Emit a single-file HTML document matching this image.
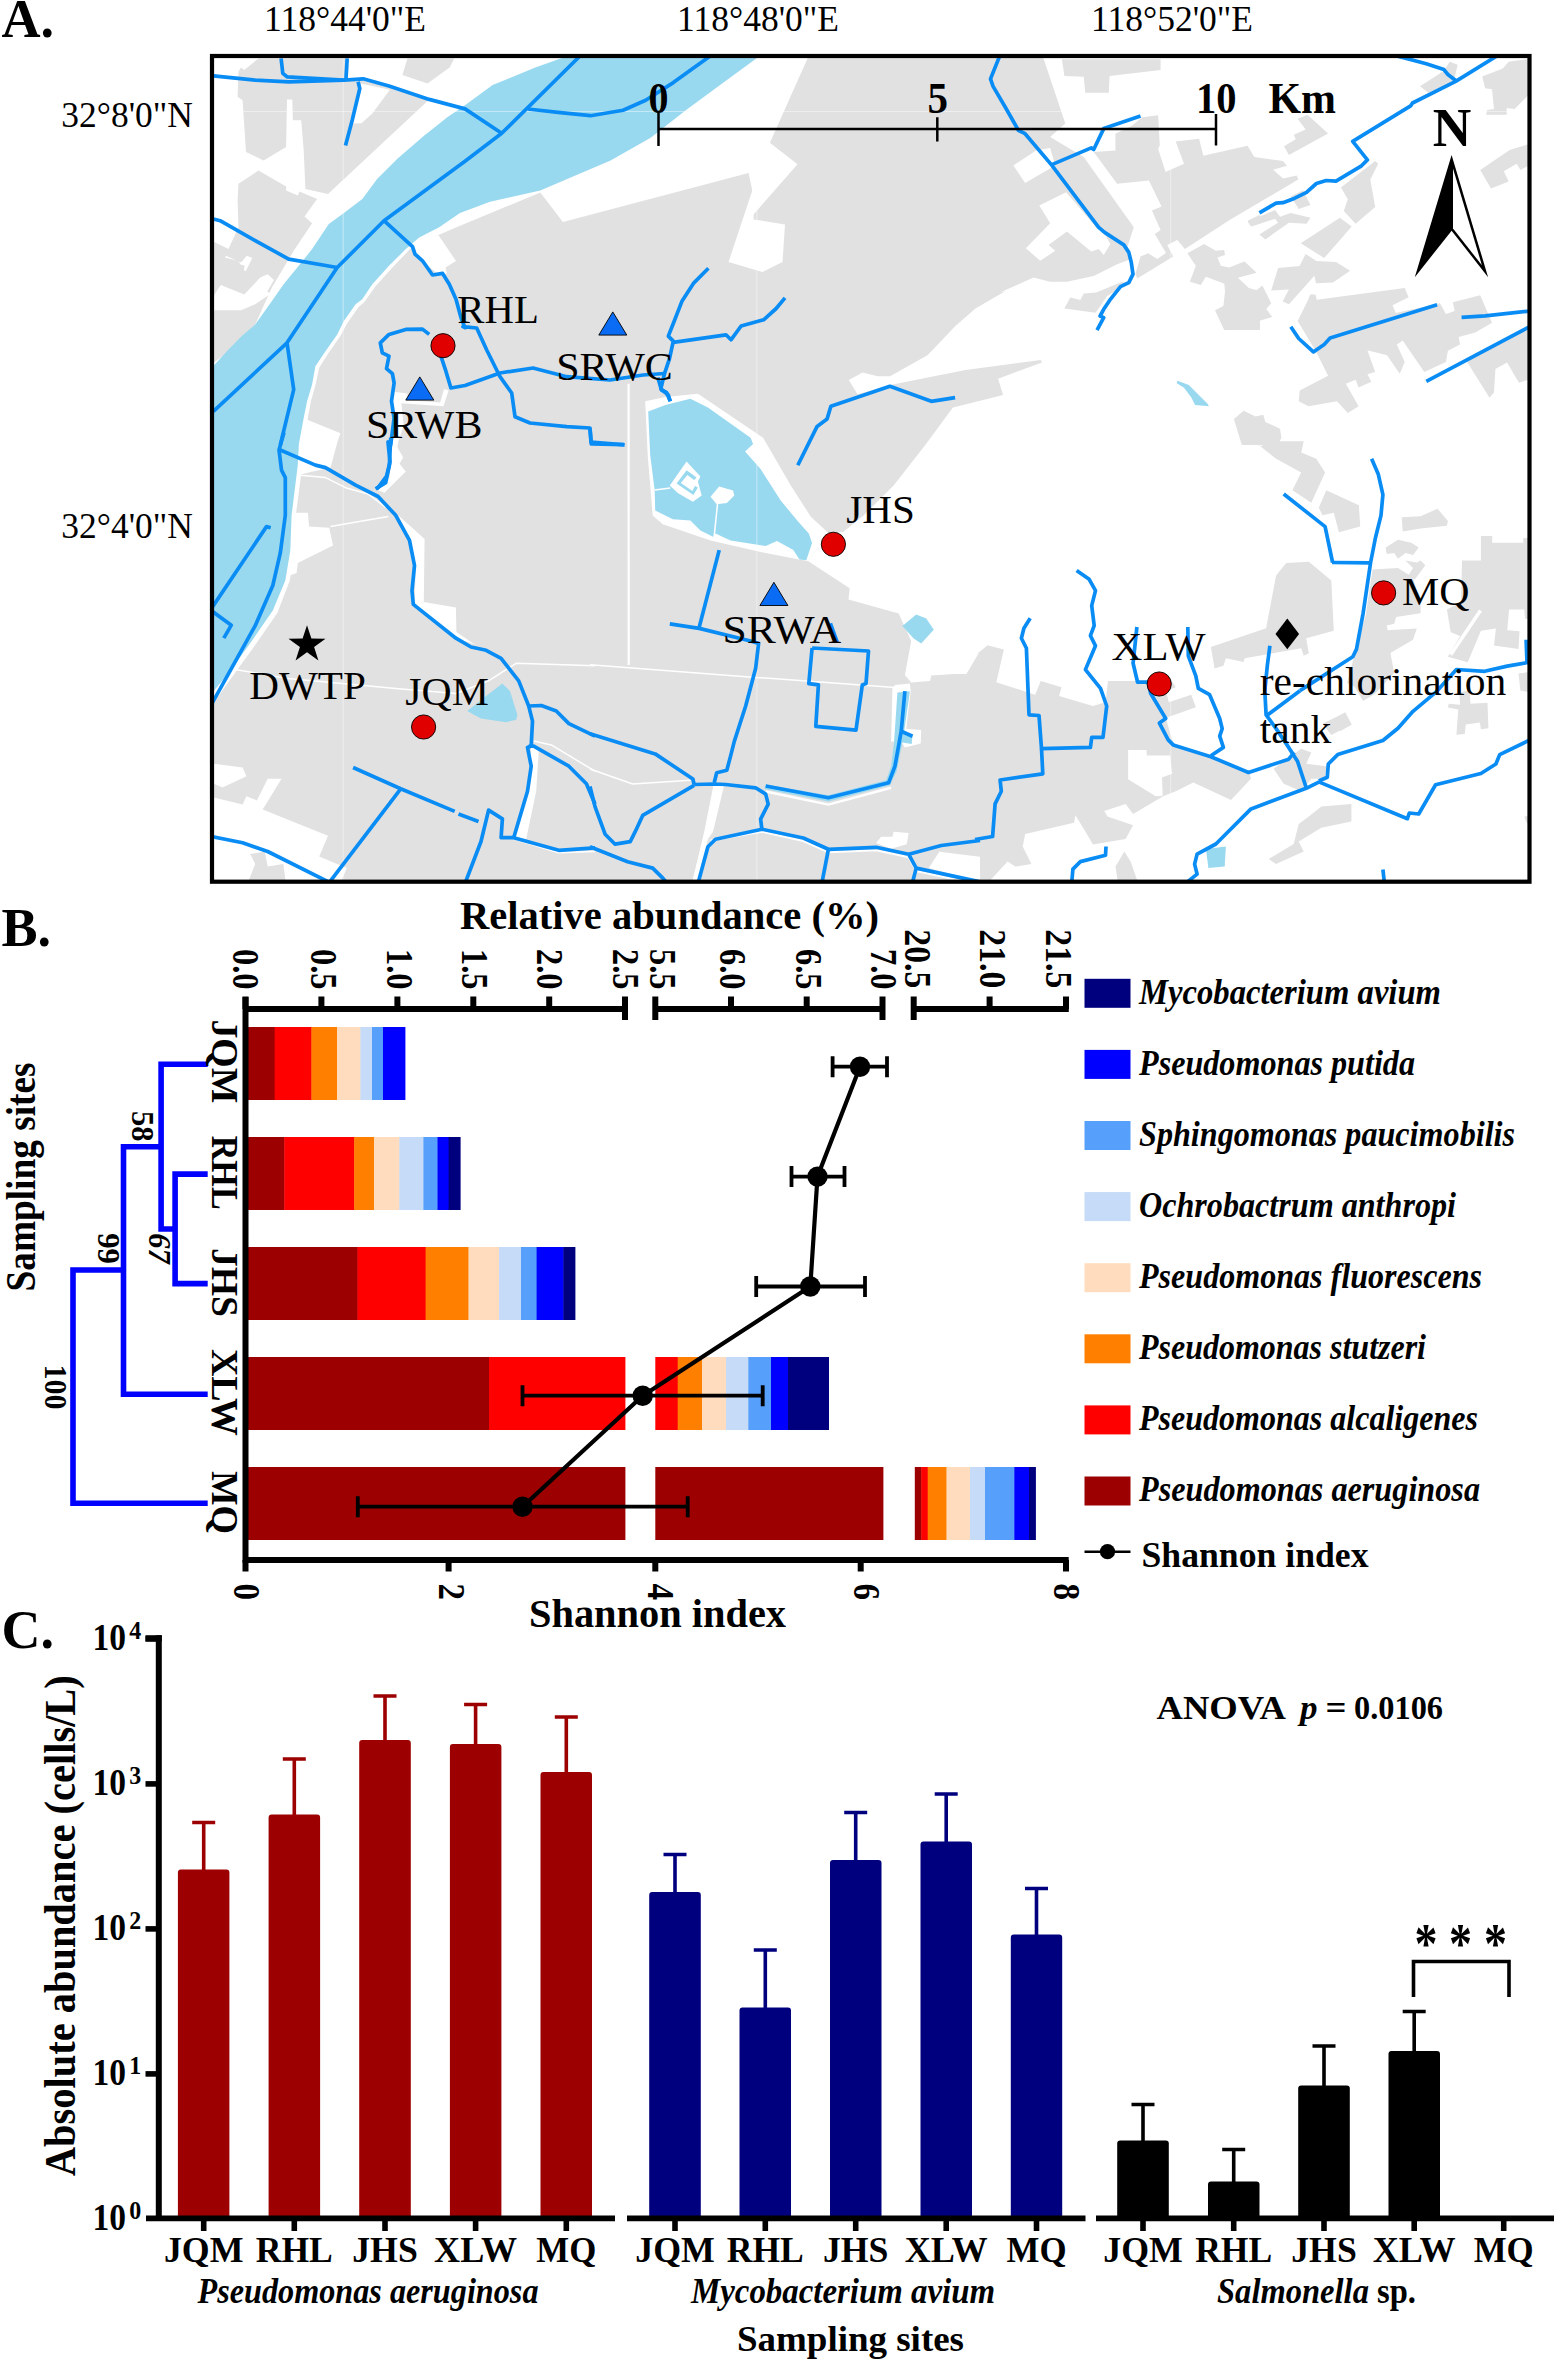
<!DOCTYPE html>
<html lang="en">
<head>
<meta charset="utf-8">
<title>Figure: sampling map, relative abundance and absolute abundance</title>
<style>
html,body{margin:0;padding:0;background:#fff;}
body{width:1554px;height:2362px;overflow:hidden;}
svg{display:block;}
text{font-family:"Liberation Serif",serif;fill:#000;}
.b{font-weight:bold;}
.i{font-style:italic;}
</style>
</head>
<body>
<svg width="1554" height="2362" viewBox="0 0 1554 2362">
<rect x="0" y="0" width="1554" height="2362" fill="#ffffff"/>
<g id="panelA">
<clipPath id="mapclip"><rect x="212.0" y="56.0" width="1317.5" height="825.7"/></clipPath>
<g clip-path="url(#mapclip)">
<path d="M412.5 246.6 L392.9 267 L375.3 286.6 L364.4 302 L358.6 307 L346.9 323.7 L340.2 336.3 L328.5 353 L319.3 367.4 L315.6 384.6 L310.9 401.3 L307.4 420.6 L303.4 440 L302.4 465.1 L295.8 515.3 L294.6 550.4 L289.8 580.5 L277.3 613.1 L254.7 645.8 L234.6 673.4 L211.3 706 L205 890 L990 890 L990.1 880.4 L1007.6 861.6 L1015.2 866.6 L1031.5 864.1 L1022.7 846.5 L1025.2 834 L1074.1 822.7 L1075.4 815.2 L1085.4 831.5 L1092.9 844.5 L1125.6 839 L1133.1 825.2 L1107.5 816.4 L1104.2 810.9 L1125.6 803.9 L1133.1 813.9 L1163.2 796.3 L1175.8 791.3 L1193.3 782.5 L1231 800.1 L1251 778.8 L1249.8 773.8 L1210.9 756.7 L1173.2 743.6 L1165.7 718 L1195.8 707.3 L1191.3 694.7 L1168.7 702.2 L1166.2 690.9 L1175.8 687.2 L1170.7 679.6 L1148.1 680.9 L1108 680.9 L1105.5 702.2 L1092.9 706 L1059.1 696 L1061.6 687.2 L1040.7 680.9 L1035.2 694.7 L996.3 682.2 L1003.9 649.5 L987.5 645.3 L975 655.8 L980 651 L966.4 674.1 L953.9 674.1 L931.3 675.6 L930 681.1 L911.2 682.4 L904.9 674.9 L911.2 641 L898.7 613.4 L848.5 599.6 L849.7 588.3 L808.3 561.2 L828.4 533.1 L843.5 531.8 L863.5 515.5 L893.6 485.4 L925.3 445 L952.9 407.6 L1003.1 395 L998.1 378.7 L1042 362.4 L1040.7 359.9 L965.5 369.9 L890.2 385 L857.5 394.3 L848.8 380 L862.6 372.5 L877.6 376.2 L890.2 376.2 L927.8 354.9 L955.4 326 L975.5 308.5 L1005.6 290.9 L1000 292.6 L1033.5 277.5 L1050.2 281.7 L1066.9 281.7 L1093.7 275.9 L1117.1 264.2 L1131.3 259.1 L1127.2 247.4 L1133.8 227.3 L1083.7 157.1 L1050.2 137 L1065.3 123.6 L1041.8 53.3 L811.3 50 L769.9 142.8 L797.5 164.2 L753.6 214.4 L753.6 219.4 L785 224.4 L782.5 262 L762.4 272 L728.5 262 L752.3 190.5 L748.6 173 L562.9 221.9 L540.3 192.5 L459.5 226 L438.4 234.9 Z" fill="#e1e1e1"/>
<path d="M238.5 71.8 L241 67.6 L244.3 70.1 L258.5 58.4 L347.2 58.4 L347.2 80.1 L363.1 78.8 L389 86 L429.2 99.4 L328 193.9 L305.4 188.9 L303.7 150.4 L301.2 120.3 L292.8 120.3 L292.3 99.4 L287 99.4 L286.1 147 L263.6 160.4 L246 152.1 L242.6 100.2 L237.6 96.8 Z" fill="#e1e1e1"/>
<path d="M407.4 58.4 L454.3 58.4 L449.6 67.6 L427.5 83.5 L402.4 75.1 Z" fill="#e1e1e1"/>
<path d="M238.5 183.8 L258.5 170.5 L286.1 186.4 L286.1 190.5 L297.9 195.6 L299.5 191.4 L317.1 198.9 L304.5 216.5 L312.1 223.2 L293.7 250.8 L271.9 287.6 L255.2 324.4 L240.1 339.4 L226.8 352.8 L213.4 362.9 L213.4 241.6 L228.4 249.1 L238.5 227.3 L237.6 200.6 Z" fill="#e1e1e1"/>
<path d="M1093.7 152.1 L1115.4 150.4 L1115.4 133.7 L1132.2 125.6 L1142.2 117.3 L1158.1 115.3 L1159.8 145.4 L1158.1 148.7 L1165.6 172.1 L1184 163.8 L1175.7 141.5 L1199.1 138.7 L1203.3 155.7 L1247.6 145.7 L1254.3 157.1 L1283 160.9 L1286.9 165.8 L1273.2 169.7 L1283 178.6 L1296.7 175.6 L1298.3 179.5 L1230 219.8 L1184.9 249.1 L1177.3 239.9 L1167.3 244.9 L1173.2 256.6 L1137.2 278.4 L1135.5 273.4 L1140.5 256.6 L1148.1 253.3 L1157.3 259.1 L1166 252.9 L1154.8 234 L1160.6 229.9 L1151.9 210.6 L1161.5 206.4 L1148.9 180.5 L1117.1 183.8 Z" fill="#e1e1e1"/>
<path d="M1061.9 59.2 L1160.6 59.2 L1160.6 70.1 L1109.6 75.9 L1108.8 92.7 L1085.3 92.7 L1083.7 76.8 L1064.4 75.9 Z" fill="#e1e1e1"/>
<path d="M1064.4 308.5 L1070.3 297.6 L1080.3 300.1 L1083.7 293.4 L1096.2 292.6 L1122.1 281.7 L1127.2 283.4 L1107.1 295.9 L1100.4 306 L1095.4 312.7 Z" fill="#e1e1e1"/>
<path d="M1187.4 253.3 L1204.1 244.1 L1215.8 250.8 L1224.2 249.9 L1225 255 L1217.5 257.5 L1220.8 265.8 L1229.2 267.5 L1244.3 261.6 L1256 272.5 L1237.6 276.7 L1234.2 284.2 L1260 290.9 L1260 330.1 L1224.2 330.1 L1215 310.2 L1223.4 306 L1225.9 284.2 L1205.8 276.7 L1200.8 285.1 L1189.9 281.7 L1195.8 265.8 Z" fill="#e1e1e1"/>
<path d="M1247.6 220.7 L1260 214.8 L1260 220.7 L1250.1 225.7 Z" fill="#e1e1e1"/>
<path d="M1284 146.2 L1295.8 139.3 L1293.8 134.8 L1305.6 129.5 L1297.7 118.7 L1307.5 114.8 L1328.1 133.4 L1288.9 155 Z" fill="#e1e1e1"/>
<path d="M1247.7 221.7 L1275.1 210 L1280 216.8 L1290.8 212.9 L1310.5 217.8 L1306.5 223.7 L1288.9 222.7 L1265.3 239.4 L1259.4 234.5 L1278.1 222.7 L1275.1 218.8 L1251.6 226.6 Z" fill="#e1e1e1"/>
<path d="M1290.8 196.2 L1303 190.3 L1310.5 205.1 L1298.7 209 Z" fill="#e1e1e1"/>
<path d="M1340.9 187.4 L1375.2 160.9 L1378.2 163.8 L1370.3 179.5 L1375.2 207 L1355.6 223.7 L1343.8 210.9 L1347.8 199.2 Z" fill="#e1e1e1"/>
<path d="M1300.7 243.3 L1339.9 217.8 L1351.7 226.6 L1324.2 258 Z" fill="#e1e1e1"/>
<path d="M1271.2 290.4 L1278.1 267.9 L1299.7 265.9 L1305.6 254.1 L1316.4 261 L1336 262 L1350.1 270.8 L1333 282.6 L1316 283.2 L1314.4 275.7 L1288.9 304.2 L1282.6 301.6 L1288.9 289.5 Z" fill="#e1e1e1"/>
<path d="M1230 267.9 L1244.7 262 L1256.5 272.8 L1237.9 277.7 L1253.6 292.4 L1262.4 285.5 L1271.2 303.2 L1266.3 309.1 L1272.2 316.9 L1230 329.7 L1222.1 324.8 L1218.2 311 L1226.1 303.2 L1224.1 281.6 Z" fill="#e1e1e1"/>
<path d="M1297.7 320.9 L1308.5 298.9 L1310.1 294.4 L1315.4 294.4 L1316.8 299.7 L1404.7 288.1 L1408.6 297.3 L1392.5 305.2 L1395.8 313 L1440 303.2 L1445.9 314 L1454.7 311 L1452.8 302.2 L1480.2 295.3 L1492 322.8 L1475.3 332.6 L1458.7 336.9 L1460 344.4 L1447.9 350.7 L1445.9 362.1 L1424.3 371.9 L1402.7 340.5 L1396.8 344.4 L1404.7 362.1 L1399.8 373.8 L1387 355.2 L1367.4 350.3 L1375.2 371.9 L1367.4 374.2 L1371.3 381.7 L1358.6 387.6 L1355.6 379.7 L1345.8 383.7 L1358.6 406.2 L1347.8 413.1 L1337 401.3 L1308.5 406.2 L1298.7 401.3 L1299.7 390.5 L1328.1 375.8 L1316.4 352.3 Z" fill="#e1e1e1"/>
<path d="M1482.2 76.5 L1502.8 68.6 L1508.7 61.8 L1528.3 58.8 L1528.3 95.1 L1514.6 108.9 L1506.7 107.9 L1506.7 114.8 L1486.1 114.8 L1487.1 109.9 L1494 108.9 L1492 89.3 L1485.2 88.3 Z" fill="#e1e1e1"/>
<path d="M1420 86.3 L1443 71.6 L1449.8 61.8 L1457.7 64.7 L1453.7 81.4 L1428.2 92.8 Z" fill="#e1e1e1"/>
<path d="M1480.2 170.1 L1509.7 150.1 L1528.3 144.2 L1528.3 165.8 L1520.5 170.1 L1516.6 163.8 L1503.8 171.3 L1508.7 181.5 L1491 188.4 Z" fill="#e1e1e1"/>
<path d="M1466.5 361.1 L1528.3 327.7 L1528.3 379.7 L1518.9 382.7 L1507.1 362.5 L1495.4 368.9 L1494 392.5 L1489.5 397.8 Z" fill="#e1e1e1"/>
<path d="M1233.9 419 L1243.7 410.7 L1255.5 416.6 L1263.4 414.7 L1265.3 421.9 L1280 428.8 L1281.4 437.6 L1278.1 445.1 L1241.8 445.1 Z" fill="#e1e1e1"/>
<path d="M1210.9 647 L1266.1 628.2 L1276.1 575.5 L1286.2 563 L1308.8 561.7 L1331.3 580.5 L1333.8 630.7 L1306.2 638.2 L1308.8 653.3 L1303.7 655.8 L1301.2 648.3 L1244.8 658.3 L1243.5 662.1 L1225.9 658.3 L1223.4 665.8 L1214.6 668.4 Z" fill="#e1e1e1"/>
<path d="M1252.3 440 L1261.1 446.3 L1269.9 441.3 L1303.7 441.3 L1301.2 452.5 L1316.3 458.8 L1325.1 472.6 L1311.3 502.7 L1292.4 490.2 L1301.2 472.6 L1276.1 458.8 Z" fill="#e1e1e1"/>
<path d="M1318.8 507.8 L1326.3 490.2 L1358.9 505.2 L1360.2 526.6 L1338.9 532.3 L1333.8 512.8 L1322.6 515.3 Z" fill="#e1e1e1"/>
<path d="M1322.6 723.6 L1343.9 713.5 L1351.4 724.8 L1331.3 734.9 Z" fill="#e1e1e1"/>
<path d="M1273.6 768.7 L1301.2 748.7 L1311.3 752.4 L1306.2 763.7 L1326.3 766.2 L1325.1 778.8 L1311.3 778.8 L1301.2 791.3 L1283.7 783.8 Z" fill="#e1e1e1"/>
<path d="M1308.8 816.4 L1321.3 806.4 L1351.4 803.9 L1351.4 821.4 L1321.3 827.7 L1298.7 841.5 L1303.7 851.5 L1276.1 864.1 L1268.6 859.1 L1293.7 844 L1298.7 823.9 Z" fill="#e1e1e1"/>
<path d="M1115.5 866.6 L1124.3 851.5 L1130.6 861.6 L1138.1 882.9 L1118 882.9 Z" fill="#e1e1e1"/>
<path d="M1365.9 614.3 L1372.5 569.6 L1398 568.1 L1413 577.5 L1420.6 605.8 L1420.6 613.3 L1396.1 617.1 L1394.2 623.7 L1386.7 625.6 L1387.6 630.3 L1416.8 628.4 L1413 639.7 L1390.4 652.9 L1394.2 672.7 L1375.4 693.4 L1363.1 700.9 L1354.6 686.8 L1347.1 683 L1355.6 651 Z" fill="#e1e1e1"/>
<path d="M1462 560.6 L1480.9 560.6 L1480.9 536.1 L1492.2 536.1 L1492.2 542.7 L1523.2 542.7 L1523.2 538 L1530.8 538 L1530.8 618 L1525.1 619 L1524.2 609.6 L1509.1 609.6 L1507.2 630.3 L1519.5 631.2 L1518.5 649.1 L1494 645.4 L1495.9 628.4 L1480.9 630.7 L1467.7 662.3 L1447.9 656.7 L1460.1 635.9 L1450.7 632.2 L1446.9 609.6 L1461.1 602 Z" fill="#e1e1e1"/>
<path d="M1401.7 517.2 L1420.6 516.3 L1437.5 508.8 L1447.9 521 L1446.9 525.7 L1420.6 528.5 L1402.7 531.4 Z" fill="#e1e1e1"/>
<path d="M1385.7 547.4 L1398 539.8 L1411.2 542.7 L1418.7 547.4 L1413 554.9 L1405.5 553 L1398 558.7 L1394.2 553 L1386.7 554 Z" fill="#e1e1e1"/>
<path d="M1405.5 560.6 L1416.8 562.5 L1420.6 560.6 L1425.3 565.3 L1414.9 579.4 L1408.3 575.6 L1413 568.1 Z" fill="#e1e1e1"/>
<path d="M1330.1 720.7 L1345.2 712.2 L1351.8 724.5 L1340.5 731.1 L1337.7 726.4 L1333 729.2 Z" fill="#e1e1e1"/>
<path d="M1448.8 703.8 L1460.1 704.7 L1459.2 692.4 L1469.6 690.6 L1470.5 703.8 L1487.5 702.8 L1488.4 728.2 L1480.9 729.2 L1479.9 722.6 L1465.8 724.5 L1464.8 733.9 L1456.4 734.8 L1458.3 709.4 L1447.9 707.5 Z" fill="#e1e1e1"/>
<path d="M1518.5 673.6 L1530.8 671.7 L1530.8 692.4 L1520.4 690.6 Z" fill="#e1e1e1"/>
<path d="M1524.2 816.8 L1530.8 814.9 L1530.8 831.9 Z" fill="#e1e1e1"/>
<path d="M360.6 83.5 L389.9 89.8 L372.3 113.6 L361.4 123.3 L353.1 123.6 Z" fill="#ffffff"/>
<path d="M225.9 255.8 L241 262.5 L246.8 255.8 L252.3 258 L245.7 271.2 L243.8 270 L244.8 265.8 L240.5 264.5 L238.5 261.1 L225.1 257.5 Z" fill="#ffffff"/>
<path d="M213.4 295.9 L220.9 285.1 L244.3 294.6 L260.2 277.5 L267.7 274.2 L273.9 280 L267.2 291.8 L271.1 293.6 L255.2 304.3 L241 310.3 L213.4 310.3 Z" fill="#ffffff"/>
<path d="M1013.4 165.4 L1036 150.4 L1050.2 147.9 L1055.2 165.4 L1025.1 183 Z" fill="#ffffff"/>
<path d="M1039.3 205.6 L1066.1 192.2 L1096.2 227.3 L1104.6 234 L1110.4 244.1 L1103.7 255 L1098.7 249.1 L1091.2 251.6 L1066.9 231.5 L1048.5 244.9 L1055.2 250.8 L1040.2 260.8 L1025.9 248.3 L1050.2 223.2 Z" fill="#ffffff"/>
<path d="M298.4 421.2 L307.9 419.9 L340.5 433.2 L338 440 L330.5 467.6 L297.8 475.1 Z" fill="#ffffff"/>
<path d="M291.6 512.8 L307.9 512.8 L309.1 526.6 L329.2 527.8 L333 545.4 L297.8 563 L296.6 573 L289.8 575.5 Z" fill="#ffffff"/>
<path d="M398.2 515.3 L424.6 539.1 L423.8 601.9 L455.9 607.6 L456.4 632 L474.8 644.5 L455.9 638.2 L414.5 604.4 L415.8 565.5 L410.8 540.4 Z" fill="#ffffff"/>
<path d="M392 437.5 L403.2 457.6 L399.5 463.8 L405.8 471.4 L384.4 492.7 L378.1 490.2 L389.4 477.6 L390.7 465.1 L389.4 437.5 Z" fill="#ffffff"/>
<path d="M213.8 763.7 L242.6 767.5 L246.4 776.3 L222.6 787.6 L213.8 783.8 Z" fill="#ffffff"/>
<path d="M213.8 797.6 L242.6 804.4 L246.4 796.3 L256.9 800.4 L267.7 778.8 L281.5 778.8 L262.7 809.4 L328 835.7 L319.2 856.6 L346.8 867.9 L340.5 882.9 L213.8 882.9 Z" fill="#ffffff"/>
<path d="M531.2 747.4 L538.8 749.2 L536.2 791.3 L526.2 839 L514.9 837.2 L528.7 791.3 Z" fill="#ffffff"/>
<path d="M645.2 401.3 L665.3 397.1 L697.9 393.8 L763.1 437.7 L790.8 485.4 L810.8 516.8 L828.4 533.1 L808.3 561.2 L765.7 553.1 L710.5 540.6 L662.8 524.3 L652.7 515.5 L647.7 455.3 Z" fill="#ffffff"/>
<path d="M894.9 684.9 L909.9 683.6 L910.7 691.2 L906.2 728.8 L921.2 730.1 L920.7 743.4 L904.9 747.6 L901.2 741.4 L891.1 741.4 L892.4 688.7 Z" fill="#ffffff"/>
<path d="M714.2 781.5 L724.3 784.5 L713 831.7 L707.9 839.2 L699.2 884.4 L691.6 884.4 L704.2 831.7 Z" fill="#ffffff"/>
<path d="M876.1 843 L881.1 836.7 L892.4 836.7 L893.6 831.7 L908.7 832.9 L906.7 844.2 L891.1 848.8 Z" fill="#ffffff"/>
<path d="M928.8 868.1 L939.3 851.8 L980 856.8 L980 881.9 L966.4 878.1 Z" fill="#ffffff"/>
<path d="M1128.1 749.9 L1146.4 749.9 L1146.9 755.4 L1170.2 755.4 L1172 773.8 L1162 777.5 L1162.7 795.8 L1155.7 796.3 L1128.1 779.3 Z" fill="#ffffff"/>
<path d="M411.6 244.9 L438.4 234.9 L456 261.1 L445.6 267.5 L446.8 273.4 L439.2 275 L420.8 260 L415 254.1 Z" fill="#ffffff"/>
<path d="M391.7 391.6 L407.4 393.4 L406.3 400.2 L440.1 402.4 L444.1 388.9 L448.6 390.5 L443.5 406.3 L401.4 403.3 L403.6 425.4 L398.4 441.2 L395 460.3 L389.4 460.3 L393.9 427.7 L393.2 405.1 Z" fill="#ffffff"/>
<path d="M247.7 882.9 L255.2 864.1 L250.2 854.1 L264.7 851.5 L267.7 866.6 L283.3 864.1 L285.8 882.9 Z" fill="#e1e1e1"/>
<path d="M211.7 367.9 L226.8 351.2 L241.8 336.1 L255.2 324.4 L271.9 301 L283.6 284.2 L298.7 265.8 L312.1 249.1 L328.8 224 L343.9 213.1 L362.3 198.9 L377.3 178.8 L397.4 158.8 L422.5 137 L447.6 116.9 L465 105.2 L492.6 85.1 L535.3 67.6 L570.4 55 L761.1 55 L723.5 82.6 L685.8 110.2 L650.7 137.8 L610.6 160.4 L540.3 190.5 L490.1 201.8 L460 213.1 L439.2 227.3 L419.2 237.4 L405.8 249.1 L389 265.8 L372.3 284.2 L362.3 299.3 L355.6 304.3 L343.9 321 L337.2 334.4 L325.5 351.2 L315.4 366.2 L312.1 384.6 L307.1 401.3 L303.7 418.1 L298.7 445 L299.1 440 L297.8 465.1 L291.6 515.3 L290.3 550.4 L285.3 580.5 L272.8 610.6 L250.2 643.3 L230.1 670.9 L213.8 690.9 L210 697.2 Z" fill="#99d9f0"/>
<path d="M1177.5 380.7 L1188.8 385 L1196.3 392.5 L1207.6 403.8 L1208.9 406.3 L1195.1 405.1 L1191.3 397.6 L1183.8 387.5 L1176.7 383.2 Z" fill="#99d9f0"/>
<path d="M467.2 711 L486.1 696 L502.4 683.4 L509.9 690.9 L517.4 714.8 L516.2 719.8 L506.1 722.3 L481 718.5 Z" fill="#99d9f0"/>
<path d="M648.2 411.4 L665.3 405.1 L690.4 398.8 L707.9 407.6 L750.6 437.7 L753.1 444 L745.1 451.5 L760.6 469.1 L780.7 500.5 L798.3 521.8 L808.8 533.6 L812.1 543.1 L806.3 560.2 L799.5 559.4 L793.3 550.1 L777 541.1 L765.7 546.1 L730.5 540.6 L715.5 533.6 L713 536.8 L700.4 530.6 L690.4 520.5 L672.8 519.3 L655.2 510.5 L654.7 490.4 L650.2 455.3 Z" fill="#99d9f0"/>
<path d="M669.8 485.4 L686.6 461.6 L700.4 476.6 L697.9 481.6 L701.7 495.4 L692.9 501.7 L677.8 492.9 Z" fill="#ffffff"/>
<path d="M710.5 496.7 L719.2 486.6 L733 490.4 L734.3 495.4 L726.8 503 L716.7 504.2 Z" fill="#ffffff"/>
<path d="M676.6 483.4 L686.6 470.3 L696.6 477.4 L694.1 479.9 L687.4 474.9 L680.8 482.9 L692.4 490.9 L694.9 485.9 L697.9 487.4 L693.4 494.9 Z" fill="#99d9f0"/>
<path d="M682.3 482.9 L687.9 476.6 L692.9 480.4 L690.4 486.6 Z" fill="#ffffff"/>
<path d="M902.4 625.9 L916.2 614.6 L926.3 618.4 L933.8 629.7 L921.2 643.5 L913.7 638.5 Z" fill="#99d9f0"/>
<path d="M897.4 692.4 L909.9 691.2 L904.2 731.3 L912.5 735.8 L911.7 743.9 L902.4 742.6 L896.6 771.5 L889.9 785.3 L828.4 801.6 L764.4 789 L765.7 784.5 L828.4 795.3 L886.1 780.3 L891.1 766.4 L894.1 741.4 Z" fill="#99d9f0"/>
<path d="M1205.9 849 L1225.9 846.5 L1224.7 866.6 L1208.4 867.9 Z" fill="#99d9f0"/>
<path d="M628.6 383.8 L628.6 445 L628.7 665" fill="none" stroke="#ffffff" stroke-opacity="1" stroke-width="2.2" stroke-linejoin="round"/>
<path d="M297.8 475.1 L325.5 477.6 L345.5 487.7 L368.1 494 L385.7 507.3" fill="none" stroke="#ffffff" stroke-opacity="1" stroke-width="1.5" stroke-linejoin="round"/>
<path d="M330.5 526.6 L388.2 516.5" fill="none" stroke="#ffffff" stroke-opacity="1" stroke-width="1.5" stroke-linejoin="round"/>
<path d="M235.1 669.6 L287.8 678.4 L355.6 684.7 L395.7 688.4 L455.9 693.5 L488.6 680.9 L506.1 669.6 L516.2 663.3 L595 665.8" fill="none" stroke="#ffffff" stroke-opacity="1" stroke-width="1.5" stroke-linejoin="round"/>
<path d="M533.7 741.1 L551.3 744.9 L595 771.2" fill="none" stroke="#ffffff" stroke-opacity="1" stroke-width="1.5" stroke-linejoin="round"/>
<path d="M513.7 839 L558.8 852.8 L595 851.5" fill="none" stroke="#ffffff" stroke-opacity="1" stroke-width="1.5" stroke-linejoin="round"/>
<path d="M213.8 701 L235.1 669.6" fill="none" stroke="#ffffff" stroke-opacity="1" stroke-width="1.5" stroke-linejoin="round"/>
<path d="M654.7 489.9 L670.3 487.9" fill="none" stroke="#ffffff" stroke-opacity="1" stroke-width="1.5" stroke-linejoin="round"/>
<path d="M717.5 504.2 L714.2 536.1" fill="none" stroke="#ffffff" stroke-opacity="1" stroke-width="1.5" stroke-linejoin="round"/>
<path d="M765.7 791.5 L828.4 804.6 L891.1 787.8" fill="none" stroke="#ffffff" stroke-opacity="1" stroke-width="2.5" stroke-linejoin="round"/>
<path d="M590 664.8 L755.6 677.4 L894.9 687.4" fill="none" stroke="#ffffff" stroke-opacity="1" stroke-width="1.5" stroke-linejoin="round"/>
<path d="M590 769 L632.7 784 L690.4 780.3" fill="none" stroke="#ffffff" stroke-opacity="1" stroke-width="1.5" stroke-linejoin="round"/>
<path d="M710.5 840.5 L761.9 831.7 L803.3 841 L828.4 852.3 L876.1 850.3 L908.7 857.3 L916.2 871.1 L980 884.9" fill="none" stroke="#ffffff" stroke-opacity="1" stroke-width="2" stroke-linejoin="round"/>
<path d="M1480.5 610.5 L1450.7 654.8" fill="none" stroke="#ffffff" stroke-opacity="1" stroke-width="3.5" stroke-linejoin="round"/>
<path d="M343.2 50 L343.2 890" fill="none" stroke="#ffffff" stroke-opacity="0.55" stroke-width="0.8" stroke-linejoin="round"/>
<path d="M756.9 50 L756.9 890" fill="none" stroke="#ffffff" stroke-opacity="0.55" stroke-width="0.8" stroke-linejoin="round"/>
<path d="M1170.7 50 L1170.7 890" fill="none" stroke="#ffffff" stroke-opacity="0.55" stroke-width="0.8" stroke-linejoin="round"/>
<path d="M205 111.5 L1535 111.5" fill="none" stroke="#ffffff" stroke-opacity="0.55" stroke-width="0.8" stroke-linejoin="round"/>
<path d="M213.4 75.9 L255.2 80.1 L288.7 81.8 L343.9 80.1 L363.1 78.8 L389 86 L429.2 99.4 L465 108.9 L501.7 133.3" fill="none" stroke="#0a8cf5" stroke-width="3.7" stroke-linejoin="round" stroke-linecap="butt"/>
<path d="M281.1 58.4 L282.8 73.4 L287 76.8 L343.9 80.1" fill="none" stroke="#0a8cf5" stroke-width="3.7" stroke-linejoin="round" stroke-linecap="butt"/>
<path d="M347.2 58.4 L345.9 80.1" fill="none" stroke="#0a8cf5" stroke-width="3.7" stroke-linejoin="round" stroke-linecap="butt"/>
<path d="M358.1 81.8 L359.8 88.5 L352.2 120.3 L345.5 145.4" fill="none" stroke="#0a8cf5" stroke-width="3.7" stroke-linejoin="round" stroke-linecap="butt"/>
<path d="M213.4 219 L220.1 220.7 L255.2 240.7 L288.7 259.1 L337.2 267.5" fill="none" stroke="#0a8cf5" stroke-width="3.7" stroke-linejoin="round" stroke-linecap="butt"/>
<path d="M213.4 411.4 L287 342.8 L337.2 267.5 L384 220.7 L465 161.3 L501.7 133.3 L580 56" fill="none" stroke="#0a8cf5" stroke-width="3.7" stroke-linejoin="round" stroke-linecap="butt"/>
<path d="M287 342.8 L293.7 389.6 L280.3 445" fill="none" stroke="#0a8cf5" stroke-width="3.7" stroke-linejoin="round" stroke-linecap="butt"/>
<path d="M527.8 109 L560.4 112.7 L590.5 115.7 L623.1 110.2 L645.7 100.2 L673.3 82.6 L710.9 55.5" fill="none" stroke="#0a8cf5" stroke-width="3.7" stroke-linejoin="round" stroke-linecap="butt"/>
<path d="M708.4 268.3 L693.4 283.4 L682.1 300.9 L673.3 323.5 L668.3 336.1 L673.3 341.1 L669.5 358.7 L664.5 373.7 L660.8 388.8 L668.3 395 L670.3 401.3" fill="none" stroke="#0a8cf5" stroke-width="3.7" stroke-linejoin="round" stroke-linecap="butt"/>
<path d="M673.3 342.3 L726 334.8 L731 339.8 L741.1 326 L763.6 319.8 L776.2 308.5 L785 297.9" fill="none" stroke="#0a8cf5" stroke-width="3.7" stroke-linejoin="round" stroke-linecap="butt"/>
<path d="M1000.1 55 L990.5 78.9 L993.1 86.4 L1005.6 107.7 L1018.4 130.3 L1025.1 133.7 L1051.9 165.4 L1098.7 227.3 L1104.6 232.4 L1123.8 244.9 L1128.8 252.4 L1131.3 262.5 L1133 274.2 L1128.8 282.6 L1120.5 286.7 L1110.4 299.3 L1103.7 309.3 L1100.1 316 L1103.7 317.7 L1097 330.1" fill="none" stroke="#0a8cf5" stroke-width="3.7" stroke-linejoin="round" stroke-linecap="butt"/>
<path d="M1051.9 164.6 L1091.2 147.9 L1093.7 149.5 L1103.7 128.6 L1140.5 116.1" fill="none" stroke="#0a8cf5" stroke-width="3.7" stroke-linejoin="round" stroke-linecap="butt"/>
<path d="M1396.8 55.9 L1426.3 63.7 L1443.9 69.6 L1447.9 74.5 L1455.7 80.4" fill="none" stroke="#0a8cf5" stroke-width="3.7" stroke-linejoin="round" stroke-linecap="butt"/>
<path d="M1496.9 55.9 L1455.7 81.4 L1412.5 103 L1410.6 105.9 L1352.7 141.3 L1367.4 159.9 L1361.5 165.8 L1336 181.1 L1326.2 180.5 L1316.4 183.5 L1306.5 192.3 L1294.8 198.2 L1283 202.7 L1276.1 203.1 L1259.4 212.9" fill="none" stroke="#0a8cf5" stroke-width="3.7" stroke-linejoin="round" stroke-linecap="butt"/>
<path d="M1290.8 326.7 L1298.7 338.5 L1313.4 351.9 L1324.2 344.4 L1330.1 338.1 L1437.1 304.8" fill="none" stroke="#0a8cf5" stroke-width="3.7" stroke-linejoin="round" stroke-linecap="butt"/>
<path d="M1461.6 317.3 L1485.2 315.9 L1530.3 311" fill="none" stroke="#0a8cf5" stroke-width="3.7" stroke-linejoin="round" stroke-linecap="butt"/>
<path d="M1426.3 381.3 L1530.3 326.3" fill="none" stroke="#0a8cf5" stroke-width="3.7" stroke-linejoin="round" stroke-linecap="butt"/>
<path d="M280.3 450 L315.4 465.1 L325.5 467.6 L355.6 485.2 L378.1 496.5 L395.7 515.3 L409.5 540.4 L414.5 565.5 L412 590.6 L413.3 604.4 L455.9 638.2 L471 647 L486.1 650.3 L501.1 658.3 L518.7 680.9 L528.7 706 L532.5 721.1 L531.2 746.1 L527.5 747.4 L531.2 766.2 L527.5 791.3 L513.7 837.7" fill="none" stroke="#0a8cf5" stroke-width="3.7" stroke-linejoin="round" stroke-linecap="butt"/>
<path d="M284 432.5 L279 450 L281.5 470.1 L285.3 477.6 L285.3 515.3 L280.3 552.9 L272.8 585.5 L255.2 625.7 L230.1 670.9 L211.3 704.7" fill="none" stroke="#0a8cf5" stroke-width="3.7" stroke-linejoin="round" stroke-linecap="butt"/>
<path d="M390.7 437.5 L389.4 465.1 L385.7 482.7 L375.6 488.9" fill="none" stroke="#0a8cf5" stroke-width="3.7" stroke-linejoin="round" stroke-linecap="butt"/>
<path d="M211.3 608.6 L266.5 526.6 L270.7 527.8" fill="none" stroke="#0a8cf5" stroke-width="3.7" stroke-linejoin="round" stroke-linecap="butt"/>
<path d="M211.3 610.6 L231.3 625.2 L223.8 638.2" fill="none" stroke="#0a8cf5" stroke-width="3.7" stroke-linejoin="round" stroke-linecap="butt"/>
<path d="M353.1 767.5 L400.7 788.8 L454.7 811.4" fill="none" stroke="#0a8cf5" stroke-width="3.7" stroke-linejoin="round" stroke-linecap="butt"/>
<path d="M458.5 813.9 L478.5 821.4" fill="none" stroke="#0a8cf5" stroke-width="3.7" stroke-linejoin="round" stroke-linecap="butt"/>
<path d="M400.7 788.8 L328 884.2" fill="none" stroke="#0a8cf5" stroke-width="3.7" stroke-linejoin="round" stroke-linecap="butt"/>
<path d="M211.3 836.5 L242.6 842.8 L267.7 851.5 L330.5 882.9" fill="none" stroke="#0a8cf5" stroke-width="3.7" stroke-linejoin="round" stroke-linecap="butt"/>
<path d="M464.7 884.2 L481 841.5 L488.6 810.1 L502.4 818.9 L501.1 837.7 L513.7 837.7 L558.8 850.3 L595 847.8" fill="none" stroke="#0a8cf5" stroke-width="3.7" stroke-linejoin="round" stroke-linecap="butt"/>
<path d="M528.7 706 L541.3 705.5 L556.3 711 L568.9 723.6 L595 736.1" fill="none" stroke="#0a8cf5" stroke-width="3.7" stroke-linejoin="round" stroke-linecap="butt"/>
<path d="M528.7 746.1 L533.7 746.1 L568.9 766.2 L586.4 783.8 L595 803.9" fill="none" stroke="#0a8cf5" stroke-width="3.7" stroke-linejoin="round" stroke-linecap="butt"/>
<path d="M657.8 377.5 L661.5 390 L666.5 392.5 L670.3 401.3" fill="none" stroke="#0a8cf5" stroke-width="3.7" stroke-linejoin="round" stroke-linecap="butt"/>
<path d="M590 428.9 L591.3 444 L623.9 444.7" fill="none" stroke="#0a8cf5" stroke-width="3.7" stroke-linejoin="round" stroke-linecap="butt"/>
<path d="M797.8 465.3 L817.1 426.4 L827.1 418.9 L830.9 406.3 L889.9 386.3 L931.3 401.3 L955.1 397.6" fill="none" stroke="#0a8cf5" stroke-width="3.7" stroke-linejoin="round" stroke-linecap="butt"/>
<path d="M719.2 550.1 L699.2 627.2" fill="none" stroke="#0a8cf5" stroke-width="3.7" stroke-linejoin="round" stroke-linecap="butt"/>
<path d="M669.8 623.9 L699.2 628.4 L750.6 641 L758.6 643.5 L755.6 668.6 L745.6 706.2 L734.3 741.4 L730.5 756.4 L726.8 770.2 L716.7 772.7 L714.2 782.8" fill="none" stroke="#0a8cf5" stroke-width="3.7" stroke-linejoin="round" stroke-linecap="butt"/>
<path d="M830.4 623.4 L837.2 642.2" fill="none" stroke="#0a8cf5" stroke-width="3.7" stroke-linejoin="round" stroke-linecap="butt"/>
<path d="M812.1 648 L868.5 651 L866 683.6 L862.3 684.9 L856 730.1 L815.8 726.3 L818.4 684.9 L808.8 683.6 L812.1 648" fill="none" stroke="#0a8cf5" stroke-width="3.7" stroke-linejoin="round" stroke-linecap="butt"/>
<path d="M904.9 691.2 L901.2 731.3 L894.9 766.4 L888.6 782.8 L828.4 797.8 L765.7 786" fill="none" stroke="#0a8cf5" stroke-width="3.7" stroke-linejoin="round" stroke-linecap="butt"/>
<path d="M901.2 731.3 L912.5 736.3" fill="none" stroke="#0a8cf5" stroke-width="3.7" stroke-linejoin="round" stroke-linecap="butt"/>
<path d="M590 733.8 L655.2 753.9 L692.9 779 L694.1 784.5" fill="none" stroke="#0a8cf5" stroke-width="3.7" stroke-linejoin="round" stroke-linecap="butt"/>
<path d="M694.1 784.5 L714.2 784 L725.5 784.5 L755.6 787.8 L765.7 794.1 L768.2 804.1 L760.6 819.1 L761.9 829.2" fill="none" stroke="#0a8cf5" stroke-width="3.7" stroke-linejoin="round" stroke-linecap="butt"/>
<path d="M694.1 785.3 L642.7 815.4 L635.2 831.7 L630.2 841.7 L615.1 844.2 L605.1 834.2 L595 806.6 L590 786.5" fill="none" stroke="#0a8cf5" stroke-width="3.7" stroke-linejoin="round" stroke-linecap="butt"/>
<path d="M590 846.8 L627.6 861.8 L652.7 868.1 L662.8 878.1 L669 885.6" fill="none" stroke="#0a8cf5" stroke-width="3.7" stroke-linejoin="round" stroke-linecap="butt"/>
<path d="M697.4 885.6 L707.9 846.8 L715.5 839.2 L761.9 829.2 L803.3 838 L828.4 849.3 L876.1 847.3 L908.7 854.3 L916.2 868.1 L980 881.9" fill="none" stroke="#0a8cf5" stroke-width="3.7" stroke-linejoin="round" stroke-linecap="butt"/>
<path d="M828.4 849.3 L821.4 885.6" fill="none" stroke="#0a8cf5" stroke-width="3.7" stroke-linejoin="round" stroke-linecap="butt"/>
<path d="M908.7 854.3 L941.3 845.5 L980 840.5" fill="none" stroke="#0a8cf5" stroke-width="3.7" stroke-linejoin="round" stroke-linecap="butt"/>
<path d="M916.2 868.1 L911.7 885.6" fill="none" stroke="#0a8cf5" stroke-width="3.7" stroke-linejoin="round" stroke-linecap="butt"/>
<path d="M1030.2 618.2 L1023.9 628.2 L1021.4 638.2 L1026.4 648.3 L1029 714.8 L1039 715.5 L1041.5 748.7 L1090.4 747.4 L1091.7 737.4 L1103 737.4 L1106.7 706 L1100.5 688.4 L1085.4 669.6 L1095.5 645.8 L1090.4 635.7 L1094.2 625.7 L1091.7 605.6 L1095.5 590.6 L1089.2 579.3 L1076.6 570.5" fill="none" stroke="#0a8cf5" stroke-width="3.7" stroke-linejoin="round" stroke-linecap="butt"/>
<path d="M1041.5 748.7 L1042.8 773.8 L1000.1 780 L1001.3 791.3 L995.1 803.9 L992.6 836.5 L975 839.5" fill="none" stroke="#0a8cf5" stroke-width="3.7" stroke-linejoin="round" stroke-linecap="butt"/>
<path d="M1136.9 627 L1133.1 663.3 L1137.6 682.2 L1148.1 682.2 L1150.7 693.5 L1165.7 718.5 L1159.4 723.1 L1168.2 739.9 L1173.2 744.9 L1210.9 756.7 L1248.5 772.5 L1288.7 759.2 L1294.2 752.4" fill="none" stroke="#0a8cf5" stroke-width="3.7" stroke-linejoin="round" stroke-linecap="butt"/>
<path d="M1187.8 627 L1188.3 655.8 L1195.8 675.9 L1198.3 688.4 L1209.6 694.7 L1219.7 718.5 L1222.2 728.6 L1219.7 736.1 L1223.4 747.4 L1210.9 755.7" fill="none" stroke="#0a8cf5" stroke-width="3.7" stroke-linejoin="round" stroke-linecap="butt"/>
<path d="M1269.9 645.8 L1267.3 665.8 L1264.8 690.9 L1266.1 714.8 L1276.1 728.6 L1286.2 743.6 L1297.5 761.2 L1306.2 787.6" fill="none" stroke="#0a8cf5" stroke-width="3.7" stroke-linejoin="round" stroke-linecap="butt"/>
<path d="M1266.1 716 L1300 690.7" fill="none" stroke="#0a8cf5" stroke-width="3.7" stroke-linejoin="round" stroke-linecap="butt"/>
<path d="M1283.7 494 L1325.1 526.6 L1332.6 562.5" fill="none" stroke="#0a8cf5" stroke-width="3.7" stroke-linejoin="round" stroke-linecap="butt"/>
<path d="M1184.5 884.2 L1197.1 874.1 L1194.6 864.1 L1197.1 854.1 L1215.9 844 L1225.9 834 L1251 808.9 L1306.2 788.3 L1319.3 781.8" fill="none" stroke="#0a8cf5" stroke-width="3.7" stroke-linejoin="round" stroke-linecap="butt"/>
<path d="M1071.6 884.2 L1072.9 869.1 L1080.4 861.6 L1105.5 855.3 L1106 846.5" fill="none" stroke="#0a8cf5" stroke-width="3.7" stroke-linejoin="round" stroke-linecap="butt"/>
<path d="M1371.6 458.8 L1378.2 473.9 L1382.9 494.6 L1381 515.4 L1375.4 538 L1370.6 562.5 L1363.1 613.3 L1356.5 649.1 L1352.8 656.7 L1300 690.6" fill="none" stroke="#0a8cf5" stroke-width="3.7" stroke-linejoin="round" stroke-linecap="butt"/>
<path d="M1332 562.5 L1370.6 562.8" fill="none" stroke="#0a8cf5" stroke-width="3.7" stroke-linejoin="round" stroke-linecap="butt"/>
<path d="M1530.8 661.9 L1507.2 666.1 L1484.6 671.3 L1456.4 669.5 L1435.6 692.4 L1413 711.3 L1398 728.2 L1382.9 740.5 L1337.7 754.6 L1328.3 764 L1327.3 777.2 L1318.8 781" fill="none" stroke="#0a8cf5" stroke-width="3.7" stroke-linejoin="round" stroke-linecap="butt"/>
<path d="M1318.8 781.9 L1407.4 818.7 L1409.3 813 L1418.7 814 L1435.6 784.8 L1480.9 773.5 L1495.9 764 L1499.7 754.6 L1530.8 739.5" fill="none" stroke="#0a8cf5" stroke-width="3.7" stroke-linejoin="round" stroke-linecap="butt"/>
<path d="M1526.1 639.7 L1527 662.3" fill="none" stroke="#0a8cf5" stroke-width="3.7" stroke-linejoin="round" stroke-linecap="butt"/>
<path d="M1382.9 869.5 L1384.4 882.7" fill="none" stroke="#0a8cf5" stroke-width="3.7" stroke-linejoin="round" stroke-linecap="butt"/>
<path d="M384 220.7 L412.5 246.6 L415 254.1 L422.5 260.8 L432.5 275 L442.6 273.4 L449.3 284.2 L456 299.3 L461 317.7 L465 327.7 L463 326.7 L476.7 328 L486.7 350 L500 376.7 L511.7 393 L515 416.7 L530 423 L566.7 426.7 L590 428 L591 442 L624.7 444.8" fill="none" stroke="#0a8cf5" stroke-width="3.7" stroke-linejoin="round" stroke-linecap="butt"/>
<path d="M429.2 334.4 L422.5 329.1 L405.8 329.4 L389 334.4 L380.3 342.8 L382.3 352.8 L389 356.2 L386.5 368.7 L392.4 373.7 L394.1 382.9 L391.5 401.3 L394.1 418.1 L390.7 445 L388 442 L390 462 L386.6 476 L377 489" fill="none" stroke="#0a8cf5" stroke-width="3.7" stroke-linejoin="round" stroke-linecap="butt"/>
<path d="M440.9 356.2 L445.9 371.2 L450.9 388 L465 385.5 L500 373 L533 368 L566.7 376.7 L610 380 L643 375 L664.5 373.5" fill="none" stroke="#0a8cf5" stroke-width="3.7" stroke-linejoin="round" stroke-linecap="butt"/>
</g>
<rect x="212.0" y="56.0" width="1317.5" height="825.7" fill="none" stroke="#000" stroke-width="4.2"/>
<text x="264" y="31.3" class="" font-size="36" textLength="162" lengthAdjust="spacingAndGlyphs">118°44'0"E</text>
<text x="677" y="31.3" class="" font-size="36" textLength="162" lengthAdjust="spacingAndGlyphs">118°48'0"E</text>
<text x="1091" y="31.3" class="" font-size="36" textLength="162" lengthAdjust="spacingAndGlyphs">118°52'0"E</text>
<text x="61.3" y="126.8" class="" font-size="36" textLength="131.5" lengthAdjust="spacingAndGlyphs">32°8'0"N</text>
<text x="61.3" y="537.8" class="" font-size="36" textLength="131.5" lengthAdjust="spacingAndGlyphs">32°4'0"N</text>
<text x="1.5" y="37" class="b" font-size="54">A.</text>
<path d="M658.5 129 H1216 M658.5 113 V146 M937.3 117.3 V141.6 M1216 114 V145.5" stroke="#000" stroke-width="2.5" fill="none"/>
<text x="658.5" y="112.8" class="b" font-size="44" text-anchor="middle" textLength="20" lengthAdjust="spacingAndGlyphs">0</text>
<text x="937.8" y="112.8" class="b" font-size="44" text-anchor="middle" textLength="20.5" lengthAdjust="spacingAndGlyphs">5</text>
<text x="1196" y="112.8" class="b" font-size="44" textLength="40.5" lengthAdjust="spacingAndGlyphs">10</text>
<text x="1268.5" y="112.8" class="b" font-size="44" textLength="67.5" lengthAdjust="spacingAndGlyphs">Km</text>
<text x="1432.8" y="145.5" class="b" font-size="55" textLength="38.5" lengthAdjust="spacingAndGlyphs">N</text>
<path d="M1451.6 155 L1414.8 277.2 L1451.6 230.7 L1488.1 277.2 Z" fill="#000"/>
<path d="M1453.0 168.4 L1453.0 228.4 L1481.9 265.3 Z" fill="#fff"/>
<circle cx="443" cy="345.7" r="12.1" fill="#e00000" stroke="#000" stroke-width="0.9"/>
<circle cx="423.6" cy="727" r="12.1" fill="#e00000" stroke="#000" stroke-width="0.9"/>
<circle cx="833.4" cy="544.3" r="12.1" fill="#e00000" stroke="#000" stroke-width="0.9"/>
<circle cx="1159.2" cy="684" r="12.1" fill="#e00000" stroke="#000" stroke-width="0.9"/>
<circle cx="1383.6" cy="592.9" r="12.1" fill="#e00000" stroke="#000" stroke-width="0.9"/>
<path d="M612.8 311.9 L598.8 335.09999999999997 H626.8 Z" fill="#0a6cf5" stroke="#000" stroke-width="0.9"/>
<path d="M419.8 376.9 L405.8 400.09999999999997 H433.8 Z" fill="#0a6cf5" stroke="#000" stroke-width="0.9"/>
<path d="M773.9 582.3 L759.9 605.5 H787.9 Z" fill="#0a6cf5" stroke="#000" stroke-width="0.9"/>
<polygon points="307.0,625.3 311.4,638.6 325.5,638.7 314.1,647.0 318.4,660.4 307.0,652.2 295.6,660.4 299.9,647.0 288.5,638.7 302.6,638.6" fill="#000"/>
<path d="M1287.3 618.6 L1299.1 633.9 L1287.3 649.2 L1275.5 633.9 Z" fill="#000"/>
<text x="457.3" y="322.9" class="" font-size="41" textLength="81.5" lengthAdjust="spacingAndGlyphs">RHL</text>
<text x="556.2" y="380.4" class="" font-size="41" textLength="116.5" lengthAdjust="spacingAndGlyphs">SRWC</text>
<text x="365.9" y="437.8" class="" font-size="41" textLength="116.5" lengthAdjust="spacingAndGlyphs">SRWB</text>
<text x="249.3" y="698.6" class="" font-size="41" textLength="116.5" lengthAdjust="spacingAndGlyphs">DWTP</text>
<text x="405.3" y="705.4" class="" font-size="41" textLength="83.5" lengthAdjust="spacingAndGlyphs">JQM</text>
<text x="846.3" y="522.7" class="" font-size="41" textLength="68.5" lengthAdjust="spacingAndGlyphs">JHS</text>
<text x="722.6" y="643.2" class="" font-size="41" textLength="118.5" lengthAdjust="spacingAndGlyphs">SRWA</text>
<text x="1111.6" y="660.3" class="" font-size="41" textLength="94" lengthAdjust="spacingAndGlyphs">XLW</text>
<text x="1402" y="604.6" class="" font-size="41" textLength="67.5" lengthAdjust="spacingAndGlyphs">MQ</text>
<text x="1259.8" y="694.6" class="" font-size="41" textLength="246.5" lengthAdjust="spacingAndGlyphs">re-chlorination</text>
<text x="1259.8" y="743" class="" font-size="41" textLength="71.5" lengthAdjust="spacingAndGlyphs">tank</text>
</g>
<g id="panelB">
<rect x="248" y="1027" width="27.0" height="73" fill="#9c0000"/>
<rect x="274.6" y="1027" width="37.2" height="73" fill="#ff0000"/>
<rect x="311.4" y="1027" width="26.0" height="73" fill="#ff8000"/>
<rect x="337" y="1027" width="23.8" height="73" fill="#ffdcbe"/>
<rect x="360.4" y="1027" width="12.0" height="73" fill="#c6dbf7"/>
<rect x="372" y="1027" width="11.4" height="73" fill="#569ffb"/>
<rect x="383" y="1027" width="22.4" height="73" fill="#0000ff"/>
<rect x="248" y="1137" width="36.7" height="73" fill="#9c0000"/>
<rect x="284.3" y="1137" width="70.3" height="73" fill="#ff0000"/>
<rect x="354.2" y="1137" width="20.2" height="73" fill="#ff8000"/>
<rect x="374" y="1137" width="25.7" height="73" fill="#ffdcbe"/>
<rect x="399.3" y="1137" width="24.5" height="73" fill="#c6dbf7"/>
<rect x="423.4" y="1137" width="14.5" height="73" fill="#569ffb"/>
<rect x="437.5" y="1137" width="11.5" height="73" fill="#0000ff"/>
<rect x="448.6" y="1137" width="12.0" height="73" fill="#00007f"/>
<rect x="248" y="1247" width="109.9" height="73" fill="#9c0000"/>
<rect x="357.5" y="1247" width="68.5" height="73" fill="#ff0000"/>
<rect x="425.6" y="1247" width="43.3" height="73" fill="#ff8000"/>
<rect x="468.5" y="1247" width="30.9" height="73" fill="#ffdcbe"/>
<rect x="499" y="1247" width="22.4" height="73" fill="#c6dbf7"/>
<rect x="521" y="1247" width="16.0" height="73" fill="#569ffb"/>
<rect x="536.6" y="1247" width="27.2" height="73" fill="#0000ff"/>
<rect x="563.4" y="1247" width="12.0" height="73" fill="#00007f"/>
<rect x="248" y="1357" width="241.4" height="73" fill="#9c0000"/>
<rect x="489" y="1357" width="136.4" height="73" fill="#ff0000"/>
<rect x="655.3" y="1357" width="22.8" height="73" fill="#ff0000"/>
<rect x="677.7" y="1357" width="24.7" height="73" fill="#ff8000"/>
<rect x="702" y="1357" width="24.4" height="73" fill="#ffdcbe"/>
<rect x="726" y="1357" width="22.7" height="73" fill="#c6dbf7"/>
<rect x="748.3" y="1357" width="23.1" height="73" fill="#569ffb"/>
<rect x="771" y="1357" width="17.4" height="73" fill="#0000ff"/>
<rect x="788" y="1357" width="41.0" height="73" fill="#00007f"/>
<rect x="248" y="1467" width="377.4" height="73" fill="#9c0000"/>
<rect x="655.3" y="1467" width="228.1" height="73" fill="#9c0000"/>
<rect x="914.8" y="1467" width="6.9" height="73" fill="#9c0000"/>
<rect x="921.3" y="1467" width="6.8" height="73" fill="#ff0000"/>
<rect x="927.7" y="1467" width="19.2" height="73" fill="#ff8000"/>
<rect x="946.5" y="1467" width="23.9" height="73" fill="#ffdcbe"/>
<rect x="970" y="1467" width="15.4" height="73" fill="#c6dbf7"/>
<rect x="985" y="1467" width="29.7" height="73" fill="#569ffb"/>
<rect x="1014.3" y="1467" width="15.1" height="73" fill="#0000ff"/>
<rect x="1029" y="1467" width="6.9" height="73" fill="#00007f"/>
<path d="M245.5 997 V1562.7" stroke="#000" stroke-width="6" fill="none"/>
<path d="M243 1009 H625" stroke="#000" stroke-width="6" fill="none"/>
<path d="M655.3 1009 H882.5" stroke="#000" stroke-width="6" fill="none"/>
<path d="M913.7 1009 H1068.8" stroke="#000" stroke-width="6" fill="none"/>
<path d="M245.5 996.5 V1009" stroke="#000" stroke-width="6" fill="none"/>
<text transform="translate(233.3 989.5) rotate(90)" class="b" font-size="37" text-anchor="end" textLength="40.5" lengthAdjust="spacingAndGlyphs">0.0</text>
<path d="M321.4 996.5 V1009" stroke="#000" stroke-width="6" fill="none"/>
<text transform="translate(311.1 989.5) rotate(90)" class="b" font-size="37" text-anchor="end" textLength="40.5" lengthAdjust="spacingAndGlyphs">0.5</text>
<path d="M397.4 996.5 V1009" stroke="#000" stroke-width="6" fill="none"/>
<text transform="translate(386.5 989.5) rotate(90)" class="b" font-size="37" text-anchor="end" textLength="40.5" lengthAdjust="spacingAndGlyphs">1.0</text>
<path d="M473.3 996.5 V1009" stroke="#000" stroke-width="6" fill="none"/>
<text transform="translate(461.6 989.5) rotate(90)" class="b" font-size="37" text-anchor="end" textLength="40.5" lengthAdjust="spacingAndGlyphs">1.5</text>
<path d="M549.2 996.5 V1009" stroke="#000" stroke-width="6" fill="none"/>
<text transform="translate(536.6 989.5) rotate(90)" class="b" font-size="37" text-anchor="end" textLength="40.5" lengthAdjust="spacingAndGlyphs">2.0</text>
<path d="M625 996.5 V1020" stroke="#000" stroke-width="6" fill="none"/>
<text transform="translate(612.8 989.5) rotate(90)" class="b" font-size="37" text-anchor="end" textLength="40.5" lengthAdjust="spacingAndGlyphs">2.5</text>
<path d="M655.3 996.5 V1020" stroke="#000" stroke-width="6" fill="none"/>
<text transform="translate(650.0 989.5) rotate(90)" class="b" font-size="37" text-anchor="end" textLength="40.5" lengthAdjust="spacingAndGlyphs">5.5</text>
<path d="M731 996.5 V1009" stroke="#000" stroke-width="6" fill="none"/>
<text transform="translate(719.9 989.5) rotate(90)" class="b" font-size="37" text-anchor="end" textLength="40.5" lengthAdjust="spacingAndGlyphs">6.0</text>
<path d="M806.7 996.5 V1009" stroke="#000" stroke-width="6" fill="none"/>
<text transform="translate(795.6 989.5) rotate(90)" class="b" font-size="37" text-anchor="end" textLength="40.5" lengthAdjust="spacingAndGlyphs">6.5</text>
<path d="M882.5 996.5 V1020" stroke="#000" stroke-width="6" fill="none"/>
<text transform="translate(871.1 989.5) rotate(90)" class="b" font-size="37" text-anchor="end" textLength="40.5" lengthAdjust="spacingAndGlyphs">7.0</text>
<path d="M913.7 996.5 V1020" stroke="#000" stroke-width="6" fill="none"/>
<text transform="translate(904.8 988.3) rotate(90)" class="b" font-size="37" text-anchor="end" textLength="59" lengthAdjust="spacingAndGlyphs">20.5</text>
<path d="M989.6 996.5 V1009" stroke="#000" stroke-width="6" fill="none"/>
<text transform="translate(979.7 988.3) rotate(90)" class="b" font-size="37" text-anchor="end" textLength="59" lengthAdjust="spacingAndGlyphs">21.0</text>
<path d="M1066 996.5 V1009" stroke="#000" stroke-width="6" fill="none"/>
<text transform="translate(1046.4 988.3) rotate(90)" class="b" font-size="37" text-anchor="end" textLength="59" lengthAdjust="spacingAndGlyphs">21.5</text>
<path d="M243 1560 H1068.7" stroke="#000" stroke-width="6" fill="none"/>
<path d="M245.5 1560 V1571.5" stroke="#000" stroke-width="6" fill="none"/>
<text transform="translate(233.9 1583.5) rotate(90)" class="b" font-size="37" textLength="16.5" lengthAdjust="spacingAndGlyphs">0</text>
<path d="M448.6 1560 V1571.5" stroke="#000" stroke-width="6" fill="none"/>
<text transform="translate(439.0 1583.5) rotate(90)" class="b" font-size="37" textLength="16.5" lengthAdjust="spacingAndGlyphs">2</text>
<path d="M655.3 1560 V1571.5" stroke="#000" stroke-width="6" fill="none"/>
<text transform="translate(648.3 1583.5) rotate(90)" class="b" font-size="37" textLength="16.5" lengthAdjust="spacingAndGlyphs">4</text>
<path d="M860.7 1560 V1571.5" stroke="#000" stroke-width="6" fill="none"/>
<text transform="translate(853.7 1583.5) rotate(90)" class="b" font-size="37" textLength="16.5" lengthAdjust="spacingAndGlyphs">6</text>
<path d="M1066 1560 V1571.5" stroke="#000" stroke-width="6" fill="none"/>
<text transform="translate(1054.4 1583.5) rotate(90)" class="b" font-size="37" textLength="16.5" lengthAdjust="spacingAndGlyphs">8</text>
<text x="460" y="929.4" class="b" font-size="40" textLength="419" lengthAdjust="spacingAndGlyphs">Relative abundance (%)</text>
<text x="529" y="1627.4" class="b" font-size="40" textLength="257" lengthAdjust="spacingAndGlyphs">Shannon index</text>
<path d="M860 1066.7 L817.5 1176.6 L810.3 1286.5 L642.7 1395.7 L522.5 1506.7" stroke="#000" stroke-width="4.2" fill="none" stroke-linejoin="round"/>
<path d="M832.6 1066.7 H887 M832.6 1056.2 V1077.2 M887 1056.2 V1077.2" stroke="#000" stroke-width="3.8" fill="none"/>
<circle cx="860" cy="1066.7" r="10.2" fill="#000"/>
<path d="M791.5 1176.6 H844.5 M791.5 1166.1 V1187.1 M844.5 1166.1 V1187.1" stroke="#000" stroke-width="3.8" fill="none"/>
<circle cx="817.5" cy="1176.6" r="10.2" fill="#000"/>
<path d="M756.2 1286.5 H865 M756.2 1276.0 V1297.0 M865 1276.0 V1297.0" stroke="#000" stroke-width="3.8" fill="none"/>
<circle cx="810.3" cy="1286.5" r="10.2" fill="#000"/>
<path d="M522.5 1395.7 H762.7 M522.5 1385.2 V1406.2 M762.7 1385.2 V1406.2" stroke="#000" stroke-width="3.8" fill="none"/>
<circle cx="642.7" cy="1395.7" r="10.2" fill="#000"/>
<path d="M357.8 1506.7 H687.7 M357.8 1496.2 V1517.2 M687.7 1496.2 V1517.2" stroke="#000" stroke-width="3.8" fill="none"/>
<circle cx="522.5" cy="1506.7" r="10.2" fill="#000"/>
<path d="M207.7 1064.2 H161.1 V1229 H175.1 M207.7 1174.1 H175.1 V1283.6 H207.7 M161.1 1146.7 H123.5 V1394.2 H207.7 M123.5 1270 H73 V1503.2 H207.7" stroke="#0000ff" stroke-width="5.6" fill="none" stroke-linejoin="miter"/>
<text transform="translate(132.3 1126.2) rotate(90)" class="b" font-size="32" text-anchor="middle" textLength="30.5" lengthAdjust="spacingAndGlyphs">58</text>
<text transform="translate(149 1248.6) rotate(90)" class="b i" font-size="32" text-anchor="middle" textLength="30.5" lengthAdjust="spacingAndGlyphs">67</text>
<text transform="translate(98.4 1248.6) rotate(90)" class="b" font-size="32" text-anchor="middle" textLength="30.5" lengthAdjust="spacingAndGlyphs">99</text>
<text transform="translate(44.5 1387) rotate(90)" class="b" font-size="32" text-anchor="middle" textLength="45" lengthAdjust="spacingAndGlyphs">100</text>
<text transform="translate(212.4 1061.4) rotate(90)" class="b" font-size="38" text-anchor="middle" textLength="84" lengthAdjust="spacingAndGlyphs">JQM</text>
<text transform="translate(212.4 1172.7) rotate(90)" class="b" font-size="38" text-anchor="middle" textLength="74" lengthAdjust="spacingAndGlyphs">RHL</text>
<text transform="translate(212.4 1282.5) rotate(90)" class="b" font-size="38" text-anchor="middle" textLength="69" lengthAdjust="spacingAndGlyphs">JHS</text>
<text transform="translate(212.4 1392.5) rotate(90)" class="b" font-size="38" text-anchor="middle" textLength="87" lengthAdjust="spacingAndGlyphs">XLW</text>
<text transform="translate(212.4 1502.5) rotate(90)" class="b" font-size="38" text-anchor="middle" textLength="63" lengthAdjust="spacingAndGlyphs">MQ</text>
<text transform="translate(35.4 1177) rotate(-90)" class="b" font-size="42" text-anchor="middle" textLength="229" lengthAdjust="spacingAndGlyphs">Sampling sites</text>
<rect x="1084.5" y="978.8" width="46" height="29" fill="#00007f"/>
<text x="1139" y="1003.6" class="b i" font-size="35" textLength="302" lengthAdjust="spacingAndGlyphs">Mycobacterium avium</text>
<rect x="1084.5" y="1049.9" width="46" height="29" fill="#0000ff"/>
<text x="1139" y="1074.7" class="b i" font-size="35" textLength="276" lengthAdjust="spacingAndGlyphs">Pseudomonas putida</text>
<rect x="1084.5" y="1121.0" width="46" height="29" fill="#569ffb"/>
<text x="1139" y="1145.8" class="b i" font-size="35" textLength="376" lengthAdjust="spacingAndGlyphs">Sphingomonas paucimobilis</text>
<rect x="1084.5" y="1192.1" width="46" height="29" fill="#c6dbf7"/>
<text x="1139" y="1216.9" class="b i" font-size="35" textLength="317" lengthAdjust="spacingAndGlyphs">Ochrobactrum anthropi</text>
<rect x="1084.5" y="1263.2" width="46" height="29" fill="#ffdcbe"/>
<text x="1139" y="1288.0" class="b i" font-size="35" textLength="343" lengthAdjust="spacingAndGlyphs">Pseudomonas fluorescens</text>
<rect x="1084.5" y="1334.3" width="46" height="29" fill="#ff8000"/>
<text x="1139" y="1359.1" class="b i" font-size="35" textLength="287" lengthAdjust="spacingAndGlyphs">Pseudomonas stutzeri</text>
<rect x="1084.5" y="1405.4" width="46" height="29" fill="#ff0000"/>
<text x="1139" y="1430.2" class="b i" font-size="35" textLength="339" lengthAdjust="spacingAndGlyphs">Pseudomonas alcaligenes</text>
<rect x="1084.5" y="1476.5" width="46" height="29" fill="#9c0000"/>
<text x="1139" y="1501.3" class="b i" font-size="35" textLength="341" lengthAdjust="spacingAndGlyphs">Pseudomonas aeruginosa</text>
<path d="M1084.5 1551.7 H1130.5" stroke="#000" stroke-width="2.6" fill="none"/>
<circle cx="1107.5" cy="1551.7" r="7.6" fill="#000"/>
<text x="1141.5" y="1567" class="b" font-size="36" textLength="227" lengthAdjust="spacingAndGlyphs">Shannon index</text>
<text x="1.5" y="945.5" class="b" font-size="54">B.</text>
</g>
<g id="panelC">
<path d="M177.9 2218.0 V1872.5 Q177.9 1869.5 180.9 1869.5 H226.4 Q229.4 1869.5 229.4 1872.5 V2218.0 Z" fill="#9c0000"/>
<path d="M203.7 1871.5 V1822.5 M192.2 1822.5 H215.2" stroke="#9c0000" stroke-width="3.6" fill="none"/>
<path d="M268.6 2218.0 V1817.5 Q268.6 1814.5 271.6 1814.5 H317.1 Q320.1 1814.5 320.1 1817.5 V2218.0 Z" fill="#9c0000"/>
<path d="M294.3 1816.5 V1759.0 M282.8 1759.0 H305.8" stroke="#9c0000" stroke-width="3.6" fill="none"/>
<path d="M359.2 2218.0 V1743.0 Q359.2 1740.0 362.2 1740.0 H407.8 Q410.8 1740.0 410.8 1743.0 V2218.0 Z" fill="#9c0000"/>
<path d="M385.0 1742.0 V1696.0 M373.5 1696.0 H396.5" stroke="#9c0000" stroke-width="3.6" fill="none"/>
<path d="M449.9 2218.0 V1747.0 Q449.9 1744.0 452.9 1744.0 H498.4 Q501.4 1744.0 501.4 1747.0 V2218.0 Z" fill="#9c0000"/>
<path d="M475.6 1746.0 V1704.5 M464.1 1704.5 H487.1" stroke="#9c0000" stroke-width="3.6" fill="none"/>
<path d="M540.5 2218.0 V1775.0 Q540.5 1772.0 543.5 1772.0 H589.0 Q592.0 1772.0 592.0 1775.0 V2218.0 Z" fill="#9c0000"/>
<path d="M566.3 1774.0 V1717.0 M554.8 1717.0 H577.8" stroke="#9c0000" stroke-width="3.6" fill="none"/>
<path d="M649.2 2218.0 V1895.0 Q649.2 1892.0 652.2 1892.0 H697.8 Q700.8 1892.0 700.8 1895.0 V2218.0 Z" fill="#00007f"/>
<path d="M675.0 1894.0 V1854.5 M663.5 1854.5 H686.5" stroke="#00007f" stroke-width="3.6" fill="none"/>
<path d="M739.5 2218.0 V2010.5 Q739.5 2007.5 742.5 2007.5 H788.0 Q791.0 2007.5 791.0 2010.5 V2218.0 Z" fill="#00007f"/>
<path d="M765.3 2009.5 V1950.0 M753.8 1950.0 H776.8" stroke="#00007f" stroke-width="3.6" fill="none"/>
<path d="M830.0 2218.0 V1863.0 Q830.0 1860.0 833.0 1860.0 H878.5 Q881.5 1860.0 881.5 1863.0 V2218.0 Z" fill="#00007f"/>
<path d="M855.7 1862.0 V1812.5 M844.2 1812.5 H867.2" stroke="#00007f" stroke-width="3.6" fill="none"/>
<path d="M920.5 2218.0 V1844.5 Q920.5 1841.5 923.5 1841.5 H969.0 Q972.0 1841.5 972.0 1844.5 V2218.0 Z" fill="#00007f"/>
<path d="M946.2 1843.5 V1794.0 M934.7 1794.0 H957.7" stroke="#00007f" stroke-width="3.6" fill="none"/>
<path d="M1010.8 2218.0 V1937.5 Q1010.8 1934.5 1013.8 1934.5 H1059.2 Q1062.2 1934.5 1062.2 1937.5 V2218.0 Z" fill="#00007f"/>
<path d="M1036.5 1936.5 V1888.5 M1025.0 1888.5 H1048.0" stroke="#00007f" stroke-width="3.6" fill="none"/>
<path d="M1117.2 2218.0 V2143.5 Q1117.2 2140.5 1120.2 2140.5 H1165.8 Q1168.8 2140.5 1168.8 2143.5 V2218.0 Z" fill="#000000"/>
<path d="M1143.0 2142.5 V2104.5 M1131.5 2104.5 H1154.5" stroke="#000000" stroke-width="3.6" fill="none"/>
<path d="M1208.0 2218.0 V2184.5 Q1208.0 2181.5 1211.0 2181.5 H1256.5 Q1259.5 2181.5 1259.5 2184.5 V2218.0 Z" fill="#000000"/>
<path d="M1233.7 2183.5 V2149.5 M1222.2 2149.5 H1245.2" stroke="#000000" stroke-width="3.6" fill="none"/>
<path d="M1298.2 2218.0 V2088.5 Q1298.2 2085.5 1301.2 2085.5 H1346.8 Q1349.8 2085.5 1349.8 2088.5 V2218.0 Z" fill="#000000"/>
<path d="M1324.0 2087.5 V2046.0 M1312.5 2046.0 H1335.5" stroke="#000000" stroke-width="3.6" fill="none"/>
<path d="M1388.5 2218.0 V2054.0 Q1388.5 2051.0 1391.5 2051.0 H1437.0 Q1440.0 2051.0 1440.0 2054.0 V2218.0 Z" fill="#000000"/>
<path d="M1414.2 2053.0 V2011.5 M1402.7 2011.5 H1425.7" stroke="#000000" stroke-width="3.6" fill="none"/>
<path d="M158.8 1635.3 V2220.9" stroke="#000" stroke-width="6" fill="none"/>
<path d="M146 2218.4 H615" stroke="#000" stroke-width="5.8" fill="none"/>
<path d="M627 2218.4 H1085.5" stroke="#000" stroke-width="5.8" fill="none"/>
<path d="M1096 2218.4 H1554" stroke="#000" stroke-width="5.8" fill="none"/>
<text x="92.5" y="2230.4" class="b" font-size="37" textLength="33.5" lengthAdjust="spacingAndGlyphs">10</text>
<text x="129.3" y="2219.2" class="b" font-size="25" textLength="12" lengthAdjust="spacingAndGlyphs">0</text>
<path d="M145.5 2073.9 H160" stroke="#000" stroke-width="5.6" fill="none"/>
<text x="92.5" y="2085.4" class="b" font-size="37" textLength="33.5" lengthAdjust="spacingAndGlyphs">10</text>
<text x="129.3" y="2074.2" class="b" font-size="25" textLength="12" lengthAdjust="spacingAndGlyphs">1</text>
<path d="M145.5 1928.9 H160" stroke="#000" stroke-width="5.6" fill="none"/>
<text x="92.5" y="1940.4" class="b" font-size="37" textLength="33.5" lengthAdjust="spacingAndGlyphs">10</text>
<text x="129.3" y="1929.2" class="b" font-size="25" textLength="12" lengthAdjust="spacingAndGlyphs">2</text>
<path d="M145.5 1783.9 H160" stroke="#000" stroke-width="5.6" fill="none"/>
<text x="92.5" y="1795.4" class="b" font-size="37" textLength="33.5" lengthAdjust="spacingAndGlyphs">10</text>
<text x="129.3" y="1784.2" class="b" font-size="25" textLength="12" lengthAdjust="spacingAndGlyphs">3</text>
<path d="M145.5 1638.9 H160" stroke="#000" stroke-width="5.6" fill="none"/>
<text x="92.5" y="1650.4" class="b" font-size="37" textLength="33.5" lengthAdjust="spacingAndGlyphs">10</text>
<text x="129.3" y="1639.2" class="b" font-size="25" textLength="12" lengthAdjust="spacingAndGlyphs">4</text>
<path d="M145.5 1638.3 H161.8" stroke="#000" stroke-width="6.2" fill="none"/>
<path d="M203.7 2218.0 V2231.0" stroke="#000" stroke-width="5.6" fill="none"/>
<text x="203.7" y="2261.8" class="b" font-size="36" text-anchor="middle" textLength="79.5" lengthAdjust="spacingAndGlyphs">JQM</text>
<path d="M294.3 2218.0 V2231.0" stroke="#000" stroke-width="5.6" fill="none"/>
<text x="294.3" y="2261.8" class="b" font-size="36" text-anchor="middle" textLength="77" lengthAdjust="spacingAndGlyphs">RHL</text>
<path d="M385 2218.0 V2231.0" stroke="#000" stroke-width="5.6" fill="none"/>
<text x="385" y="2261.8" class="b" font-size="36" text-anchor="middle" textLength="65.5" lengthAdjust="spacingAndGlyphs">JHS</text>
<path d="M475.6 2218.0 V2231.0" stroke="#000" stroke-width="5.6" fill="none"/>
<text x="475.6" y="2261.8" class="b" font-size="36" text-anchor="middle" textLength="83" lengthAdjust="spacingAndGlyphs">XLW</text>
<path d="M566.3 2218.0 V2231.0" stroke="#000" stroke-width="5.6" fill="none"/>
<text x="566.3" y="2261.8" class="b" font-size="36" text-anchor="middle" textLength="60" lengthAdjust="spacingAndGlyphs">MQ</text>
<path d="M675 2218.0 V2231.0" stroke="#000" stroke-width="5.6" fill="none"/>
<text x="675" y="2261.8" class="b" font-size="36" text-anchor="middle" textLength="79.5" lengthAdjust="spacingAndGlyphs">JQM</text>
<path d="M765.3 2218.0 V2231.0" stroke="#000" stroke-width="5.6" fill="none"/>
<text x="765.3" y="2261.8" class="b" font-size="36" text-anchor="middle" textLength="77" lengthAdjust="spacingAndGlyphs">RHL</text>
<path d="M855.7 2218.0 V2231.0" stroke="#000" stroke-width="5.6" fill="none"/>
<text x="855.7" y="2261.8" class="b" font-size="36" text-anchor="middle" textLength="65.5" lengthAdjust="spacingAndGlyphs">JHS</text>
<path d="M946.2 2218.0 V2231.0" stroke="#000" stroke-width="5.6" fill="none"/>
<text x="946.2" y="2261.8" class="b" font-size="36" text-anchor="middle" textLength="83" lengthAdjust="spacingAndGlyphs">XLW</text>
<path d="M1036.5 2218.0 V2231.0" stroke="#000" stroke-width="5.6" fill="none"/>
<text x="1036.5" y="2261.8" class="b" font-size="36" text-anchor="middle" textLength="60" lengthAdjust="spacingAndGlyphs">MQ</text>
<path d="M1143 2218.0 V2231.0" stroke="#000" stroke-width="5.6" fill="none"/>
<text x="1143" y="2261.8" class="b" font-size="36" text-anchor="middle" textLength="79.5" lengthAdjust="spacingAndGlyphs">JQM</text>
<path d="M1233.7 2218.0 V2231.0" stroke="#000" stroke-width="5.6" fill="none"/>
<text x="1233.7" y="2261.8" class="b" font-size="36" text-anchor="middle" textLength="77" lengthAdjust="spacingAndGlyphs">RHL</text>
<path d="M1324 2218.0 V2231.0" stroke="#000" stroke-width="5.6" fill="none"/>
<text x="1324" y="2261.8" class="b" font-size="36" text-anchor="middle" textLength="65.5" lengthAdjust="spacingAndGlyphs">JHS</text>
<path d="M1414.2 2218.0 V2231.0" stroke="#000" stroke-width="5.6" fill="none"/>
<text x="1414.2" y="2261.8" class="b" font-size="36" text-anchor="middle" textLength="83" lengthAdjust="spacingAndGlyphs">XLW</text>
<path d="M1503.7 2218.0 V2231.0" stroke="#000" stroke-width="5.6" fill="none"/>
<text x="1503.7" y="2261.8" class="b" font-size="36" text-anchor="middle" textLength="60" lengthAdjust="spacingAndGlyphs">MQ</text>
<text x="197.5" y="2303" class="b i" font-size="35" textLength="341" lengthAdjust="spacingAndGlyphs">Pseudomonas aeruginosa</text>
<text x="691" y="2303" class="b i" font-size="35" textLength="304" lengthAdjust="spacingAndGlyphs">Mycobacterium avium</text>
<text x="1217" y="2303" font-size="35" class="b" textLength="199" lengthAdjust="spacingAndGlyphs"><tspan class="b i">Salmonella</tspan> sp.</text>
<text x="737" y="2351" class="b" font-size="36" textLength="227" lengthAdjust="spacingAndGlyphs">Sampling sites</text>
<text transform="translate(75.2 1925.7) rotate(-90)" class="b" font-size="44" text-anchor="middle" textLength="501" lengthAdjust="spacingAndGlyphs">Absolute abundance (cells/L)</text>
<text x="1156.5" y="1719" class="b" font-size="34" textLength="129.5" lengthAdjust="spacingAndGlyphs">ANOVA</text>
<text x="1300" y="1719" class="b i" font-size="34" textLength="17.5" lengthAdjust="spacingAndGlyphs">p</text>
<text x="1325.5" y="1719" class="b" font-size="34" textLength="21" lengthAdjust="spacingAndGlyphs">=</text>
<text x="1354" y="1719" class="b" font-size="34" textLength="89" lengthAdjust="spacingAndGlyphs">0.0106</text>
<path d="M1413.5 1997 V1961.5 H1509 V1997" stroke="#000" stroke-width="3.6" fill="none"/>
<text transform="translate(1426 1962.5) scale(1 1.22)" class="b" font-size="46" text-anchor="middle">*</text>
<text transform="translate(1460.5 1962.5) scale(1 1.22)" class="b" font-size="46" text-anchor="middle">*</text>
<text transform="translate(1495.5 1962.5) scale(1 1.22)" class="b" font-size="46" text-anchor="middle">*</text>
<text x="1.5" y="1648" class="b" font-size="54">C.</text>
</g>

</svg>
</body>
</html>
